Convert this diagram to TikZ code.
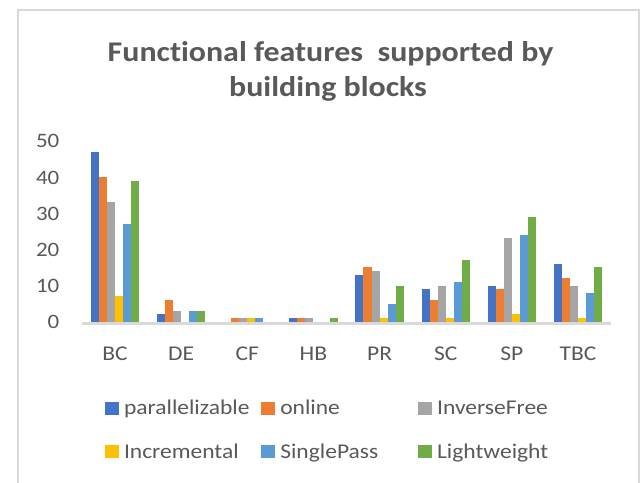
\documentclass[tikz,border=0pt]{standalone}
\usepackage{fontspec}
\setmainfont{Carlito}[FakeStretch=1.12,Ligatures=NoCommon]
\definecolor{txtgray}{HTML}{595959}
\definecolor{framegray}{HTML}{D9D9D9}
\definecolor{axisgray}{HTML}{D9D9D9}
\definecolor{serA}{HTML}{4472C4}
\definecolor{serB}{HTML}{ED7D31}
\definecolor{serC}{HTML}{A5A5A5}
\definecolor{serD}{HTML}{FFC000}
\definecolor{serE}{HTML}{5B9BD5}
\definecolor{serF}{HTML}{70AD47}
% one bar: #1 category index, #2 series index, #3 value, #4 colour
\newcommand\chartbar[4]{%
  \pgfmathsetmacro\barleft{82+66.125*#1+8.9+8.05*#2}%
  \ifdim #3pt>0pt
    \fill[#4] (\barleft,321.7) rectangle ({\barleft+8.05},{321.7-3.62*#3});%
  \fi}
\begin{document}
\begin{tikzpicture}[x=1pt,y=-1pt,
  titletext/.style={text=txtgray,inner sep=0pt,anchor=base,
    font=\fontsize{28.5}{34}\selectfont\bfseries},
  ticktext/.style={text=txtgray,inner sep=0pt,anchor=east,
    font=\fontsize{20.5}{24}\selectfont},
  cattext/.style={text=txtgray,inner sep=0pt,anchor=center,
    font=\fontsize{21}{25}\selectfont},
  legtext/.style={text=txtgray,inner sep=0pt,anchor=base west,
    font=\fontsize{21}{25}\selectfont},
  legkey/.style={inner sep=0pt,minimum width=14pt,minimum height=13pt,anchor=south west}]
\useasboundingbox (0,0) rectangle (644,482);
\clip (0,0) rectangle (644,482);
\fill[white] (0,0) rectangle (644,482);
% chart frame
\draw[framegray,line width=2pt] (17.5,9.5) rectangle (639,520);
% title (kern keeps t and i as separate letters)
\node[titletext] (title1) at (330.5,61.7) {Funct\kern0pt{}ional features~~supported by};
\node[titletext] (title2) at (328,96) {building blocks};
% value axis labels
\foreach \v [count=\k from 0] in {0,10,20,30,40,50}
  \node[ticktext] (tick\k) at (59.5,{322.3-36.2*\k}) {\v};
% bars
\foreach \cname/\va/\vb/\vc/\vd/\ve/\vf [count=\i from 0] in
  {BC/47/40/33/7/27/39, DE/2/6/3/0/3/3, CF/0/1/1/1/1/0, HB/1/1/1/0/0/1,
   PR/13/15/14/1/5/10, SC/9/6/10/1/11/17, SP/10/9/23/2/24/29, TBC/16/12/10/1/8/15}
{
  \chartbar{\i}{0}{\va}{serA}
  \chartbar{\i}{1}{\vb}{serB}
  \chartbar{\i}{2}{\vc}{serC}
  \chartbar{\i}{3}{\vd}{serD}
  \chartbar{\i}{4}{\ve}{serE}
  \chartbar{\i}{5}{\vf}{serF}
  \node[cattext] (cat\i) at ({82+66.125*(\i+0.5)},353.3) {\cname};
}
% category axis line
\coordinate (axisL) at (82,323.2);
\coordinate (axisR) at (611,323.2);
\draw[axisgray,line width=2.6pt] (axisL) -- (axisR);
% legend
\foreach \col/\lab/\cx/\by [count=\j] in
  {serA/parallelizable/104.4/414.8, serB/online/260.7/414.8, serC/InverseFree/417.5/414.8,
   serD/Incremental/104.4/458.5, serE/SinglePass/260.7/458.5, serF/Lightweight/417.5/458.5}
{
  \node[legkey,fill=\col] (key\j) at (\cx,\by) {};
  \node[legtext] (leg\j) at ({\cx+19.4},\by) {\lab};
}
\end{tikzpicture}
\end{document}
